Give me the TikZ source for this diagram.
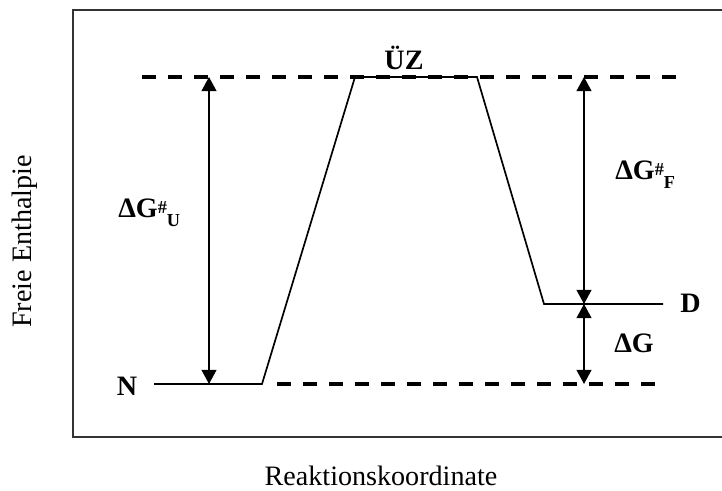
\documentclass[tikz,border=0pt]{standalone}
\usepackage{fontspec}
\setmainfont{Liberation Serif}
\usetikzlibrary{arrows.meta}

\newcommand{\hashsup}{\raisebox{3.5pt}{\fontsize{13}{13}\selectfont\#}}
\newcommand{\lowsub}[1]{\raisebox{-6.4pt}{\fontsize{13}{13}\selectfont #1}}

\begin{document}
\begin{tikzpicture}[
  level/.style={line width=1.2pt},
  dashlevel/.style={line width=2.4pt,dash pattern=on 10pt off 8.5pt},
  dim/.style={line width=1.2pt,{Triangle[length=10pt,width=10.5pt]}-{Triangle[length=10pt,width=10.5pt]}},
  lab/.style={font=\fontsize{20}{24}\selectfont\bfseries,inner sep=0pt},
  axis/.style={font=\fontsize{20}{24}\selectfont,inner sep=0pt}]
  \useasboundingbox (0,0) rectangle (18.05,12.275);
  % frame, open on the right
  \draw[line width=1.2pt,black!80] (18.05,12.025)--(1.825,12.025)--(1.825,1.35)--(18.05,1.35);
  % energy levels
  \coordinate (n0) at (3.85,2.675);
  \coordinate (n1) at (6.55,2.675);
  \coordinate (t0) at (8.875,10.35);
  \coordinate (t1) at (11.925,10.35);
  \coordinate (d0) at (13.6,4.675);
  \coordinate (d1) at (16.575,4.675);
  \coordinate (tl) at (3.55,10.35);
  \coordinate (tr) at (16.925,10.35);
  \coordinate (bl) at (6.925,2.675);
  \coordinate (br) at (16.575,2.675);
  \draw[dashlevel] (tl)--(tr);
  \draw[dashlevel] (bl)--(br);
  \draw[level] (n0)--(n1)--(t0)--(t1)--(d0)--(d1);
  % dimension arrows
  \coordinate (ua) at (5.225,10.35);
  \coordinate (ub) at (5.225,2.675);
  \coordinate (fa) at (14.6,10.35);
  \coordinate (fm) at (14.6,4.675);
  \coordinate (fb) at (14.6,2.675);
  \draw[dim] (ua)--(ub);
  \draw[dim] (fa)--(fm);
  \draw[dim] (fm)--(fb);
  % labels
  \node[lab,anchor=base] (uz) at (10.1,10.525) {ÜZ};
  \node[lab,anchor=base] (nat) at (3.175,2.375) {N};
  \node[lab,anchor=base] (den) at (17.26,4.45) {D};
  \node[lab,anchor=base west] (dgu) at (2.95,6.825) {ΔG\hashsup\lowsub{U}};
  \node[lab,anchor=base west] (dgf) at (15.375,7.775) {ΔG\hashsup\lowsub{F}};
  \node[lab,anchor=base west] (dg) at (15.35,3.45) {ΔG};
  \node[axis,anchor=base,rotate=90] (ylab) at (0.8,6.24) {Freie Enthalpie};
  \node[axis,anchor=base] (xlab) at (9.525,0.125) {Reaktionskoordinate};
\end{tikzpicture}
\end{document}
